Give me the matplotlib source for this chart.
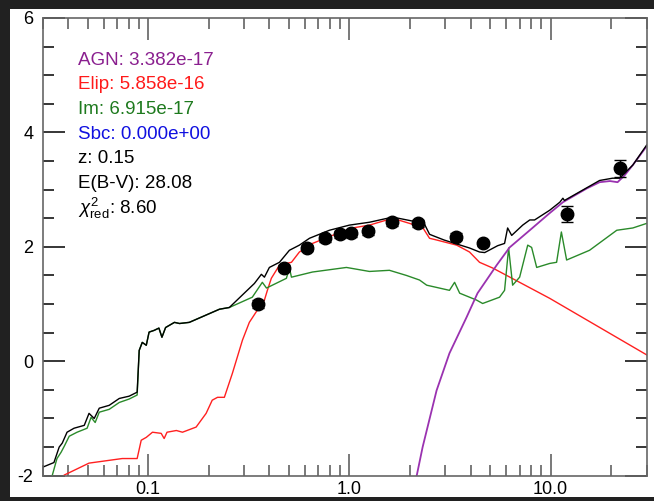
import matplotlib
matplotlib.use("Agg")
import matplotlib.pyplot as plt
from matplotlib.patches import Rectangle
from matplotlib.ticker import FixedLocator, LogLocator, MultipleLocator, NullFormatter

plt.rcParams["font.family"] = ["Liberation Sans", "DejaVu Sans"]
plt.rcParams["mathtext.fontset"] = "custom"
plt.rcParams["mathtext.rm"] = "Liberation Sans"
plt.rcParams["mathtext.it"] = "Liberation Sans:italic"
plt.rcParams["axes.unicode_minus"] = False

# wavelength (micron) and log flux for each template
total_wave = [0.029, 0.034, 0.0361, 0.0374, 0.0395, 0.0428, 0.0481, 0.0508, 0.0539, 0.0571,
              0.064, 0.0718, 0.0804, 0.0881, 0.0902, 0.0934, 0.0978, 0.101, 0.107, 0.113,
              0.117, 0.122, 0.135, 0.143, 0.16, 0.226, 0.253, 0.30, 0.337, 0.365,
              0.378, 0.40, 0.449, 0.503, 0.564, 0.633, 0.795, 1.0, 1.257, 1.64,
              1.75, 2.35, 2.50, 2.58, 2.95, 3.95, 4.43, 4.70, 5.45, 5.90,
              6.11, 6.40, 7.26, 7.87, 8.32, 9.89, 11.1, 11.5, 11.7, 17.5,
              20.3, 22.0, 25.6, 30.0]
total_flux = [-1.87, -1.77, -1.50, -1.43, -1.24, -1.17, -1.12, -0.91, -1.00, -0.82,
              -0.77, -0.65, -0.61, -0.54, 0.19, 0.33, 0.28, 0.51, 0.54, 0.58,
              0.42, 0.59, 0.68, 0.66, 0.68, 0.91, 0.94, 1.19, 1.36, 1.52,
              1.47, 1.64, 1.73, 1.94, 2.03, 2.15, 2.29, 2.38, 2.43, 2.52,
              2.50, 2.41, 2.22, 2.20, 2.12, 1.98, 1.91, 1.90, 2.02, 2.06,
              2.33, 2.20, 2.38, 2.47, 2.47, 2.64, 2.78, 2.85, 2.81, 3.16,
              3.20, 3.20, 3.43, 3.78]

im_wave = [0.0326, 0.0352, 0.0369, 0.0382, 0.0405, 0.0443, 0.0497, 0.052, 0.0545, 0.0571,
           0.064, 0.0718, 0.0804, 0.0881, 0.0902, 0.0934, 0.0978, 0.101, 0.107, 0.113,
           0.117, 0.122, 0.135, 0.143, 0.16, 0.226, 0.253, 0.329, 0.369, 0.387,
           0.486, 0.503, 0.515, 0.655, 0.966, 1.257, 1.58, 1.92, 2.23, 2.42,
           3.14, 3.33, 3.53, 4.28, 4.59, 5.57, 5.90, 6.18, 6.47, 7.01,
           7.69, 8.04, 8.52, 9.89, 10.7, 11.3, 12.0, 15.6, 21.3, 25.6,
           30.0]
im_flux = [-2.12, -1.70, -1.59, -1.49, -1.31, -1.24, -1.17, -0.98, -1.07, -0.89,
           -0.84, -0.72, -0.66, -0.59, 0.19, 0.33, 0.28, 0.51, 0.54, 0.58,
           0.42, 0.59, 0.68, 0.66, 0.68, 0.91, 0.94, 1.12, 1.38, 1.28,
           1.45, 1.63, 1.47, 1.56, 1.64, 1.57, 1.59, 1.50, 1.42, 1.33,
           1.24, 1.38, 1.19, 1.07, 1.01, 1.12, 1.24, 1.98, 1.33, 1.47,
           2.03, 1.99, 1.64, 1.71, 1.73, 2.26, 1.77, 1.94, 2.29, 2.33,
           2.41]

elip_wave = [0.0369, 0.0382, 0.0508, 0.0743, 0.0881, 0.0923, 0.0978, 0.105, 0.116, 0.120,
             0.124, 0.138, 0.148, 0.173, 0.194, 0.208, 0.221, 0.239, 0.262, 0.294,
             0.318, 0.348, 0.378, 0.391, 0.409, 0.449, 0.515, 0.564, 0.655, 0.823,
             1.035, 1.257, 1.64, 2.31, 2.50, 2.71, 3.41, 3.95, 4.43, 5.15,
             9.89, 30.4]
elip_flux = [-2.08, -1.99, -1.78, -1.70, -1.70, -1.38, -1.33, -1.24, -1.26, -1.35,
             -1.24, -1.21, -1.24, -1.15, -0.91, -0.68, -0.63, -0.63, -0.21, 0.37,
             0.68, 0.89, 1.07, 1.24, 1.45, 1.68, 1.73, 1.91, 2.06, 2.20,
             2.33, 2.38, 2.50, 2.34, 2.15, 2.12, 2.03, 1.91, 1.73, 1.63,
             1.10, 0.10]

agn_wave = [2.15, 2.31, 2.71, 3.14, 3.82, 4.33, 4.80, 5.39, 6.25, 7.87,
            9.89, 11.5, 15.1, 17.5, 19.7, 21.5, 23.3, 25.6, 30.0]
agn_flux = [-2.03, -1.50, -0.51, 0.14, 0.77, 1.19, 1.42, 1.68, 1.99, 2.29,
            2.59, 2.78, 3.02, 3.13, 3.15, 3.13, 3.25, 3.43, 3.76]

# photometry
obs_wave = [0.351, 0.475, 0.618, 0.76, 0.90, 1.02, 1.24, 1.62, 2.2, 3.4, 4.6, 12.0, 22.0]
obs_flux = [1.00, 1.63, 1.98, 2.15, 2.22, 2.24, 2.27, 2.43, 2.41, 2.18, 2.06, 2.58, 3.37]
obs_err = [0.07, 0.06, 0.06, 0.06, 0.06, 0.06, 0.06, 0.06, 0.06, 0.06, 0.05, 0.14, 0.15]

labels = ["AGN: 3.382e-17", "Elip: 5.858e-16", "Im: 6.915e-17", "Sbc: 0.000e+00",
          "z: 0.15", "E(B-V): 28.08", r"$\chi^2_{\rm red}$: 8.60"]
label_colors = ["#8a1f8f", "#ff1a1a", "#1e7a1e", "#1010e0", "black", "black", "black"]

fig = plt.figure(figsize=(6.54, 5.01), dpi=100, facecolor="#212121")
fig.patches.append(Rectangle((10 / 654, 4 / 501), 1, 488 / 501, transform=fig.transFigure,
                             facecolor="white", edgecolor="none", zorder=-1))
ax = fig.add_axes([43 / 654, 1 - 475.7 / 501, 603.7 / 654, 457.7 / 501])

ax.plot(elip_wave, elip_flux, color="#ff2020", lw=1.0)
ax.plot(im_wave, im_flux, color="#2a8a2a", lw=1.0)
ax.plot(agn_wave, agn_flux, color="#9a32b0", lw=1.3)
ax.plot(total_wave, total_flux, color="black", lw=1.0)
ax.errorbar(obs_wave, obs_flux, yerr=obs_err, fmt="o", color="black", ms=9,
            capsize=4.5, elinewidth=1.0, capthick=1.0)

ax.set_xscale("log")
ax.set_xlim(0.03, 30)
ax.set_ylim(-2, 6)

ax.xaxis.set_major_locator(FixedLocator([0.1, 1, 10]))
ax.set_xticklabels(["0.1", "1.0", "10.0"])
ax.xaxis.set_minor_locator(LogLocator(base=10, subs=range(2, 10)))
ax.xaxis.set_minor_formatter(NullFormatter())
ax.yaxis.set_major_locator(MultipleLocator(2))
ax.yaxis.set_minor_locator(MultipleLocator(0.5))

ax.tick_params(which="both", direction="in", top=True, right=True, labelsize=13)
ax.tick_params(which="major", length=15.5, width=1.1)
ax.tick_params(which="minor", length=7.8, width=1.1)
ax.tick_params(axis="x", which="both", color="#555555", pad=4)
ax.tick_params(axis="y", which="both", color="black", pad=7)
for s in ax.spines.values():
    s.set_color("#666666")
    s.set_linewidth(1.2)

for i, (t, c) in enumerate(zip(labels, label_colors)):
    ax.text(0.058, 0.908 - i * 0.054, t, color=c, fontsize=13.5, va="center",
            transform=ax.transAxes)

fig.savefig("out.png", dpi=100, facecolor=fig.get_facecolor())
